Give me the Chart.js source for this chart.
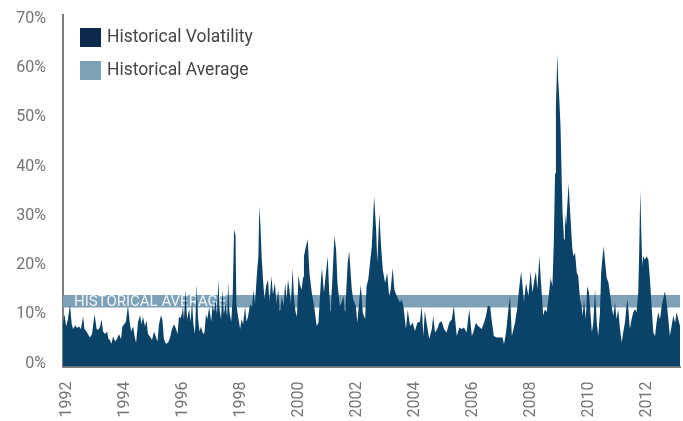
<!DOCTYPE html>
<html>
<head>
<meta charset="utf-8">
<script src="https://cdn.jsdelivr.net/npm/chart.js@4.4.1/dist/chart.umd.min.js"></script>
<style>
  html, body { margin: 0; padding: 0; background: #ffffff; }
  #wrap { width: 683px; height: 421px; }
</style>
</head>
<body>
<div id="wrap"><canvas id="c" width="683" height="421"></canvas></div>
<script>
// ---- data (decimal years, volatility in %) ----
const DATES = [
  1991.86,1991.91,1991.97,1992.03,1992.10,1992.16,1992.21,1992.28,1992.34,1992.41,1992.48,1992.55,1992.60,1992.67,1992.72,1992.79,1992.86,1992.95,
  1993.02,1993.07,1993.14,1993.19,1993.24,1993.31,1993.38,1993.43,1993.48,1993.53,1993.59,1993.66,1993.72,1993.79,1993.86,1993.91,1993.97,
  1994.03,1994.10,1994.16,1994.21,1994.28,1994.33,1994.38,1994.45,1994.52,1994.57,1994.62,1994.69,1994.74,1994.79,1994.86,1994.93,
  1995.00,1995.07,1995.12,1995.17,1995.24,1995.29,1995.34,1995.41,1995.48,1995.55,1995.62,1995.69,1995.76,1995.81,1995.86,1995.91,1995.97,
  1996.00,1996.03,1996.09,1996.14,1996.21,1996.26,1996.31,1996.36,1996.41,1996.47,1996.52,1996.57,1996.62,1996.69,1996.74,1996.79,1996.84,1996.90,1996.97,
  1997.02,1997.07,1997.12,1997.17,1997.22,1997.26,1997.31,1997.36,1997.41,1997.47,1997.52,1997.56,1997.60,1997.66,1997.71,1997.76,1997.81,1997.84,1997.90,1997.97,
  1998.02,1998.07,1998.14,1998.19,1998.24,1998.31,1998.38,1998.43,1998.48,1998.55,1998.60,1998.63,1998.67,1998.71,1998.76,1998.81,1998.86,1998.93,1998.98,
  1999.05,1999.10,1999.17,1999.22,1999.28,1999.34,1999.41,1999.47,1999.52,1999.57,1999.62,1999.67,1999.72,1999.78,1999.83,1999.88,1999.93,1999.98,
  2000.03,2000.09,2000.14,2000.17,2000.24,2000.30,2000.36,2000.44,2000.52,2000.61,2000.67,2000.75,2000.79,2000.86,2000.93,2000.99,
  2001.04,2001.09,2001.15,2001.22,2001.28,2001.33,2001.41,2001.47,2001.53,2001.59,2001.68,2001.73,2001.82,2001.87,2001.96,
  2002.01,2002.08,2002.13,2002.20,2002.28,2002.33,2002.39,2002.45,2002.51,2002.59,2002.66,2002.70,2002.77,2002.83,2002.89,2002.97,
  2003.04,2003.11,2003.16,2003.23,2003.29,2003.37,2003.48,2003.54,2003.60,2003.69,2003.75,2003.83,2003.92,
  2004.00,2004.08,2004.17,2004.23,2004.29,2004.34,2004.40,2004.49,2004.58,2004.63,2004.69,2004.77,2004.84,2004.92,
  2005.00,2005.09,2005.18,2005.27,2005.34,2005.44,2005.53,2005.61,2005.69,2005.78,2005.87,2005.96,
  2006.01,2006.10,2006.18,2006.30,2006.38,2006.45,2006.51,2006.59,2006.64,2006.72,2006.82,2006.93,
  2007.02,2007.07,2007.14,2007.22,2007.28,2007.34,2007.45,2007.53,2007.60,2007.66,2007.71,2007.76,2007.83,2007.91,2007.99,
  2008.05,2008.10,2008.17,2008.22,2008.29,2008.34,2008.40,2008.42,2008.48,2008.54,2008.60,2008.68,2008.74,2008.79,2008.83,2008.86,2008.91,2008.94,2008.98,
  2009.02,2009.06,2009.09,2009.14,2009.17,2009.21,2009.25,2009.30,2009.34,2009.38,2009.42,2009.46,2009.52,2009.58,2009.63,2009.69,2009.75,2009.78,2009.83,2009.89,2009.94,
  2010.00,2010.06,2010.10,2010.15,2010.21,2010.27,2010.32,2010.38,2010.42,2010.47,2010.51,2010.55,2010.61,2010.67,2010.72,2010.78,2010.84,2010.90,2010.95,
  2011.01,2011.07,2011.13,2011.18,2011.24,2011.32,2011.37,2011.41,2011.47,2011.53,2011.59,2011.64,2011.70,2011.73,2011.77,2011.80,2011.84,2011.87,2011.93,2011.99,
  2012.05,2012.10,2012.16,2012.22,2012.28,2012.33,2012.39,2012.45,2012.51,2012.56,2012.62,2012.68,2012.74,2012.79,2012.85,2012.91,2012.97,2013.02,2013.08,2013.14
];
const VOLATILITY = [
  8.2,10.0,7.5,9.0,12.0,8.0,7.0,7.8,7.2,7.5,7.0,9.6,7.0,6.5,6.0,5.3,6.0,10.0,
  7.0,6.8,7.5,9.0,6.5,6.0,6.5,5.0,4.8,4.0,5.5,4.5,5.0,6.0,5.0,7.5,8.0,
  8.5,11.8,8.5,6.5,7.5,5.5,4.2,8.5,9.8,8.0,9.5,7.5,8.8,6.0,5.5,4.8,
  6.5,5.3,4.5,8.0,9.8,8.8,5.0,4.0,4.2,5.2,7.0,8.0,7.0,6.0,9.5,9.2,10.2,
  11.8,9.0,15.0,9.0,11.0,8.5,12.5,8.0,6.0,16.0,9.0,6.5,7.5,6.0,6.3,10.0,9.0,11.5,8.5,
  12.0,10.5,13.0,10.0,17.0,11.0,9.0,15.0,10.0,12.5,9.5,16.4,10.5,8.5,13.0,27.2,26.0,12.0,9.5,7.0,
  9.0,8.0,11.5,8.5,9.5,12.0,11.5,15.0,12.0,18.4,22.0,31.9,28.0,21.8,17.0,13.0,15.7,17.0,12.5,
  17.7,14.0,16.4,12.0,15.0,10.5,13.5,11.7,16.4,13.0,17.0,15.0,12.0,19.4,13.0,10.5,9.5,18.0,
  16.0,15.0,17.5,21.8,23.8,25.2,18.4,14.4,11.7,7.6,8.3,16.4,19.4,14.4,18.4,21.8,
  14.4,10.3,17.1,26.0,23.0,16.0,11.7,12.4,13.7,10.3,20.5,22.8,15.1,13.0,11.7,
  8.3,13.0,16.0,10.3,9.0,15.7,17.1,20.5,23.8,33.9,27.2,20.5,30.5,23.8,19.0,16.4,
  18.4,13.7,15.0,19.4,15.0,13.7,12.4,13.0,11.7,7.0,10.9,7.6,8.3,
  6.6,8.3,8.5,11.7,5.6,10.7,8.3,5.0,7.0,9.7,6.3,7.0,8.3,8.6,
  7.0,6.3,8.3,9.0,11.7,5.6,7.3,7.0,7.3,6.3,11.0,5.6,
  6.3,8.3,7.6,7.0,8.3,9.7,11.7,11.7,9.0,5.6,5.3,5.3,
  5.3,3.9,6.3,11.0,13.7,5.6,8.3,11.4,15.7,18.7,15.7,12.4,16.4,13.7,18.7,
  14.4,16.4,18.7,15.1,21.8,17.0,11.7,9.7,11.0,10.4,13.1,17.4,15.7,25.2,38.6,52.1,62.9,57.5,53.4,
  48.0,37.3,30.5,25.2,30.5,28.0,31.9,36.6,31.9,28.0,23.8,21.8,22.5,18.4,17.8,13.1,11.7,9.7,13.1,9.0,15.7,
  14.4,9.7,6.3,8.3,15.1,8.3,5.6,10.4,18.4,21.8,23.8,21.1,17.4,16.5,14.4,11.7,9.7,12.4,9.0,
  11.0,7.0,4.3,6.3,8.3,13.1,10.4,7.0,9.0,10.4,11.0,10.4,14.4,21.8,35.2,27.9,19.8,21.8,21.1,21.8,
  21.1,17.4,11.7,6.3,5.6,8.3,10.4,9.0,11.7,13.1,14.7,12.4,9.0,5.6,7.6,9.7,8.3,10.4,9.0,7.6
];
const AVG_LOW = 11.4;
const AVG_HIGH = 13.9;
const Y_TICKS = [0, 10, 20, 30, 40, 50, 60, 70];
const X_TICKS = [1992, 1994, 1996, 1998, 2000, 2002, 2004, 2006, 2008, 2010, 2012];
const SERIES_LABELS = ['Historical Volatility', 'Historical Average'];
const BAND_TEXT = 'HISTORICAL AVERAGE';

// ---- styling ----
const AREA_COLOR = '#0b4368';
const AREA_LEGEND_COLOR = '#0c2a4e';
const BAND_COLOR = '#7fa1b8';
const AXIS_COLOR = '#7d7d7d';
const TICK_COLOR = '#747474';
const FONT = 'Roboto';

const bandLabelPlugin = {
  id: 'bandLabel',
  afterDatasetDraw(chart, args) {
    if (args.index !== 1) return;
    const ctx = chart.ctx;
    const y = chart.scales.y.getPixelForValue((AVG_LOW + AVG_HIGH) / 2);
    ctx.save();
    ctx.font = '15px ' + FONT;
    ctx.fillStyle = 'rgba(255,255,255,0.88)';
    ctx.textBaseline = 'middle';
    ctx.textAlign = 'left';
    ctx.fillText(BAND_TEXT, chart.chartArea.left + 11, y + 1);
    ctx.restore();
  }
};

const insideLegendPlugin = {
  id: 'insideLegend',
  afterDraw(chart) {
    const ctx = chart.ctx;
    const left = chart.chartArea.left;
    ctx.save();
    ctx.font = '17.5px ' + FONT;
    ctx.textBaseline = 'middle';
    ctx.textAlign = 'left';
    chart.data.datasets.forEach((ds, i) => {
      const y = 28 + i * 33;
      ctx.fillStyle = ds.legendColor;
      ctx.fillRect(left + 17, y, 21, 19);
      ctx.fillStyle = '#454545';
      ctx.fillText(ds.label, left + 44, y + 10);
    });
    ctx.restore();
  }
};

const first = DATES[0], last = DATES[DATES.length - 1];

new Chart(document.getElementById('c'), {
  type: 'line',
  data: {
    datasets: [
      {
        label: SERIES_LABELS[0],
        data: DATES.map((d, i) => ({ x: d, y: VOLATILITY[i] })),
        backgroundColor: AREA_COLOR,
        borderColor: 'transparent',
        borderWidth: 0,
        pointRadius: 0,
        tension: 0,
        fill: 'start',
        order: 1,
        legendColor: AREA_LEGEND_COLOR
      },
      {
        label: SERIES_LABELS[1],
        data: [{ x: first, y: AVG_HIGH }, { x: last, y: AVG_HIGH }],
        backgroundColor: BAND_COLOR,
        borderColor: 'transparent',
        borderWidth: 0,
        pointRadius: 0,
        fill: { value: AVG_LOW },
        order: 2,
        legendColor: BAND_COLOR
      }
    ]
  },
  options: {
    responsive: false,
    animation: false,
    devicePixelRatio: 1,
    layout: { padding: { top: 15, right: 3, bottom: 0, left: 0 } },
    plugins: { legend: { display: false }, tooltip: { enabled: false } },
    scales: {
      x: {
        type: 'linear',
        min: first,
        max: last,
        z: 1,
        afterBuildTicks: s => { s.ticks = X_TICKS.map(v => ({ value: v })); },
        afterFit: s => { s.height = 54.5; s.paddingLeft = 0; s.paddingRight = 0; },
        grid: { display: false, drawTicks: false },
        border: { display: true, color: AXIS_COLOR, width: 2 },
        ticks: {
          autoSkip: false,
          minRotation: 90,
          maxRotation: 90,
          padding: 15,
          color: TICK_COLOR,
          font: { family: FONT, size: 16 },
          callback: v => String(v)
        }
      },
      y: {
        type: 'linear',
        min: -0.6,
        max: 70.77,
        z: 1,
        afterBuildTicks: s => { s.ticks = Y_TICKS.map(v => ({ value: v })); },
        afterFit: s => { s.width = 63; s.paddingTop = 0; s.paddingBottom = 0; },
        grid: { display: false, drawTicks: false },
        border: { display: true, color: AXIS_COLOR, width: 2 },
        ticks: {
          padding: 17,
          color: TICK_COLOR,
          font: { family: FONT, size: 16 },
          callback: v => v + '%'
        }
      }
    }
  },
  plugins: [bandLabelPlugin, insideLegendPlugin]
});
</script>
</body>
</html>
